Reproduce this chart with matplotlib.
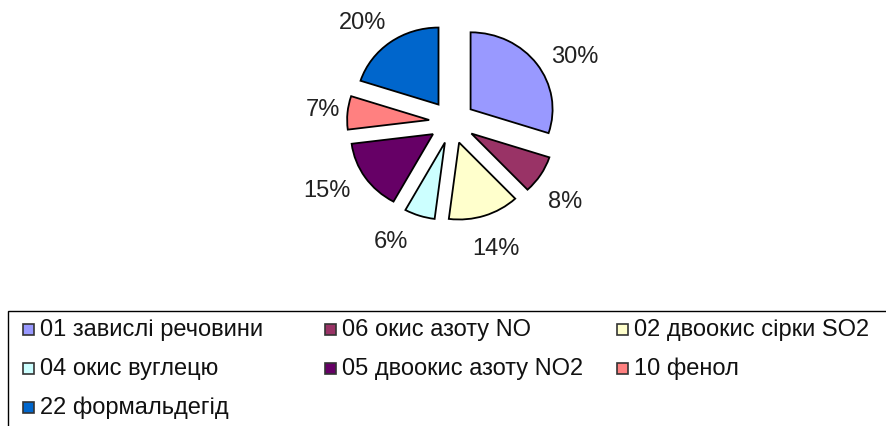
import matplotlib.pyplot as plt
from matplotlib.patches import Rectangle

plt.rcParams['font.family'] = ['Liberation Sans', 'DejaVu Sans']

# data, clockwise from 12 o'clock
labels = ['01 завислі речовини', '06 окис азоту NO', '02 двоокис сірки SO2',
          '04 окис вуглецю', '05 двоокис азоту NO2', '10 фенол', '22 формальдегід']
shares = [30, 8, 14, 6, 15, 7, 20]
colors = ['#9999FF', '#993366', '#FFFFCC', '#CCFFFF', '#660066', '#FF8080', '#0066CC']

# small pixel nudges for the percent labels (x right, y down)
nudge = [(8, 12), (-7, 8), (0, -1), (-17, -8), (-8, -7), (12, 0), (-6, 8)]

W, H = 886, 427
fig = plt.figure(figsize=(W / 100, H / 100), dpi=100)

# pie axes placed in pixels: centre (452, 123 from top), slightly wide ellipse
cx, cy, rx, ry = 452, 123, 82, 77
aw, ah = 400, 246
ax = fig.add_axes([(cx - aw / 2) / W, (H - cy - ah / 2) / H, aw / W, ah / H])
wedges, texts, autotexts = ax.pie(
    shares, colors=colors, startangle=90, counterclock=False,
    explode=[0.28] * len(shares), autopct='%1.0f%%', pctdistance=1.45,
    wedgeprops=dict(edgecolor='black', linewidth=1.3),
    textprops=dict(fontsize=17, color='#222222'))
for t, (dx, dy) in zip(autotexts, nudge):
    x, y = t.get_position()
    t.set_position((x + dx / rx, y - dy / ry))
ax.set_aspect('auto')
ax.set_xlim(-aw / 2 / rx, aw / 2 / rx)
ax.set_ylim(-ah / 2 / ry, ah / 2 / ry)
ax.axis('off')

# legend box (runs off the right and bottom edges)
fig.patches.append(Rectangle((8 / W, -0.1), 1.0, (H - 312) / H + 0.1,
                             transform=fig.transFigure, fill=False,
                             edgecolor='black', linewidth=1.0))

col_x = [23, 325, 617]
row_y = [330, 369, 408]
for i, (lab, col) in enumerate(zip(labels, colors)):
    x = col_x[i % 3]
    y = row_y[i // 3]
    fig.patches.append(Rectangle((x / W, (H - y - 5.5) / H), 11 / W, 11 / H,
                                 transform=fig.transFigure, facecolor=col,
                                 edgecolor='#333333', linewidth=1.2))
    fig.text((x + 17) / W, (H - y) / H, lab, fontsize=17, va='center',
             ha='left', color='#111111')

fig.savefig('out.png', dpi=100)
